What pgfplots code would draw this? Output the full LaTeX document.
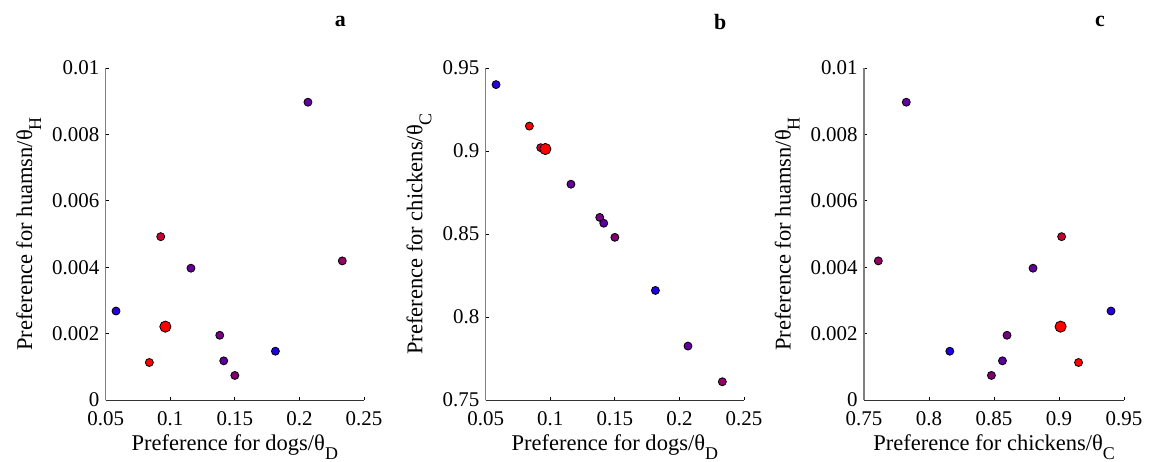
\documentclass[border=0pt]{standalone}
\usepackage{fontspec}
\setmainfont{Liberation Serif}
\usepackage{pgfplots}
\usepackage{pgfplotstable}
\pgfplotsset{compat=1.18}

\definecolor{p1}{RGB}{40,0,220}
\definecolor{p2}{RGB}{255,0,0}
\definecolor{p3}{RGB}{200,0,50}
\definecolor{p4}{RGB}{100,0,150}
\definecolor{p5}{RGB}{120,0,130}
\definecolor{p6}{RGB}{90,0,160}
\definecolor{p7}{RGB}{130,0,110}
\definecolor{p8}{RGB}{30,0,230}
\definecolor{p9}{RGB}{100,0,160}
\definecolor{p10}{RGB}{150,0,100}
\definecolor{p11}{RGB}{255,0,0}

\newcommand{\sub}[1]{\raisebox{-4.5bp}{\fontsize{9}{10}\selectfont #1}}

\pgfplotstableread{
d h c k
0.0580 0.00268 0.9400 k1
0.0838 0.00113 0.9150 k2
0.0926 0.00492 0.9020 k3
0.1160 0.00397 0.8800 k4
0.1383 0.00195 0.8600 k5
0.1414 0.00118 0.8565 k6
0.1500 0.00074 0.8480 k7
0.1814 0.00147 0.8160 k8
0.2066 0.00897 0.7825 k9
0.2332 0.00419 0.7610 k10
0.0962 0.00221 0.9012 k11
}\data

\pgfplotsset{
  panel/.style={
    scale only axis, height=166bp, anchor=south west,
    axis lines*=left,
    tick align=inside,
    major tick length=1.5bp,
    x axis line style={black!80, line width=0.5bp},
    y axis line style={black!50, line width=0.6bp},
    tick style={black, line width=0.4bp},
    /pgf/number format/assume math mode=true,
    scaled ticks=false,
    tick label style={font=\fontsize{10.5}{12}\selectfont},
    label style={font=\fontsize{11.3}{13}\selectfont},
    xticklabel style={inner sep=0pt, yshift=-5.5bp},
    yticklabel style={inner sep=0pt, xshift=-3bp},
    xlabel style={yshift=-1bp},
    ylabel style={yshift=2bp},
    clip=false,
  },
  pts/.style={scatter, only marks, line width=0.4bp,
    scatter src=explicit symbolic,
    scatter/classes={
      k1={mark=*,fill=p1,draw=black,mark size=2bp},
      k2={mark=*,fill=p2,draw=black,mark size=2bp},
      k3={mark=*,fill=p3,draw=black,mark size=2bp},
      k4={mark=*,fill=p4,draw=black,mark size=2bp},
      k5={mark=*,fill=p5,draw=black,mark size=2bp},
      k6={mark=*,fill=p6,draw=black,mark size=2bp},
      k7={mark=*,fill=p7,draw=black,mark size=2bp},
      k8={mark=*,fill=p8,draw=black,mark size=2bp},
      k9={mark=*,fill=p9,draw=black,mark size=2bp},
      k10={mark=*,fill=p10,draw=black,mark size=2bp},
      k11={mark=*,fill=p11,draw=black,mark size=2.8bp}}},
}

\begin{document}
\begin{tikzpicture}[x=1bp,y=1bp]
\useasboundingbox (0,0) rectangle (578.5,230.5);

% panel a
\begin{axis}[panel, at={(52.85bp,30.5bp)}, width=129.15bp,
  xmin=0.05, xmax=0.25, ymin=0, ymax=0.01,
  xtick={0.05,0.1,0.15,0.2,0.25}, xticklabels={0.05,0.1,0.15,0.2,0.25},
  ytick={0,0.002,0.004,0.006,0.008,0.01}, yticklabels={0,0.002,0.004,0.006,0.008,0.01},
  xlabel={Preference for dogs/θ\sub{D}},
  ylabel={Preference for huamsn/θ\sub{H}}]
\addplot[pts] table[x=d,y=h,meta=k] {\data};
\node[font=\bfseries\fontsize{11}{13}\selectfont] at (rel axis cs:0.908,1.14) {a};
\end{axis}

% panel b
\begin{axis}[panel, at={(242.85bp,30.5bp)}, width=129.15bp,
  xmin=0.05, xmax=0.25, ymin=0.75, ymax=0.95,
  xtick={0.05,0.1,0.15,0.2,0.25}, xticklabels={0.05,0.1,0.15,0.2,0.25},
  ytick={0.75,0.8,0.85,0.9,0.95}, yticklabels={0.75,0.8,0.85,0.9,0.95},
  xlabel={Preference for dogs/θ\sub{D}},
  ylabel={Preference for chickens/θ\sub{C}}]
\addplot[pts] table[x=d,y=c,meta=k] {\data};
\node[font=\bfseries\fontsize{11}{13}\selectfont] at (rel axis cs:0.908,1.14) {b};
\end{axis}

% panel c
\begin{axis}[panel, at={(432bp,30.5bp)}, width=130bp,
  xmin=0.75, xmax=0.95, ymin=0, ymax=0.01,
  xtick={0.75,0.8,0.85,0.9,0.95}, xticklabels={0.75,0.8,0.85,0.9,0.95},
  ytick={0,0.002,0.004,0.006,0.008,0.01}, yticklabels={0,0.002,0.004,0.006,0.008,0.01},
  xlabel={Preference for chickens/θ\sub{C}},
  ylabel={Preference for huamsn/θ\sub{H}}]
\addplot[pts] table[x=c,y=h,meta=k] {\data};
\node[font=\bfseries\fontsize{11}{13}\selectfont] at (rel axis cs:0.908,1.14) {c};
\end{axis}
\end{tikzpicture}
\end{document}
